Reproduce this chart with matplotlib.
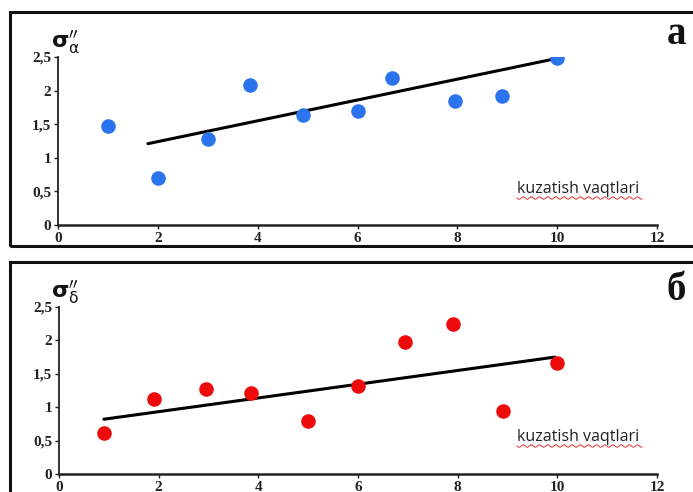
import numpy as np
import matplotlib
matplotlib.use("Agg")
import matplotlib.pyplot as plt
from matplotlib.patches import Rectangle

# ---- data ----
alpha_x = [1.0, 2.0, 3.0, 3.85, 4.9, 6.0, 6.7, 7.95, 8.9, 10.0]
alpha_y = [1.48, 0.70, 1.28, 2.08, 1.64, 1.69, 2.19, 1.84, 1.92, 2.48]
alpha_trend_x = [1.8, 10.0]
alpha_trend_y = [1.21, 2.48]

delta_x = [0.9, 1.9, 2.95, 3.85, 5.0, 6.0, 6.95, 7.9, 8.9, 10.0]
delta_y = [0.61, 1.12, 1.27, 1.21, 0.80, 1.31, 1.98, 2.24, 0.95, 1.66]
delta_trend_x = [0.9, 9.95]
delta_trend_y = [0.82, 1.75]

x_ticks = [0, 2, 4, 6, 8, 10, 12]
y_ticks = [0, 0.5, 1, 1.5, 2, 2.5]
y_tick_labels = ["0", "0,5", "1", "1,5", "2", "2,5"]
x_label_text = "kuzatish vaqtlari"
panel_labels = ["a", "б"]
y_labels = [r"$\mathbf{\sigma}_{\mathrm{\alpha}}^{\prime\prime}$",
            r"$\mathbf{\sigma}_{\mathrm{\delta}}^{\prime\prime}$"]

W, H = 693, 492
fig = plt.figure(figsize=(W / 100, H / 100), dpi=100)
plt.rcParams['mathtext.fontset'] = 'dejavusans'

def fx(px):
    return px / W

def fy(py):
    return 1 - py / H

# frames
for (top, bot) in [(12, 246), (262, 520)]:
    r = Rectangle((fx(10), fy(bot)), fx(720) - fx(10), fy(top) - fy(bot),
                  transform=fig.transFigure, fill=False, lw=2.2, ec="#111111",
                  clip_on=False)
    fig.patches.append(r)

serif = "Liberation Serif"

panels = [
    dict(box=(58, 657, 57, 225), x=alpha_x, y=alpha_y, tx=alpha_trend_x, ty=alpha_trend_y,
         color="#2b74ee", label_y=35, kuz_y=193),
    dict(box=(59, 657, 307, 474), x=delta_x, y=delta_y, tx=delta_trend_x, ty=delta_trend_y,
         color="#ee0b0b", label_y=290, kuz_y=441),
]

for i, p in enumerate(panels):
    l, r, t, b = p["box"]
    ax = fig.add_axes([fx(l), fy(b), fx(r) - fx(l), fy(t) - fy(b)])
    ax.set_xlim(0, 12)
    ax.set_ylim(0, 2.5)
    ax.patch.set_alpha(0)
    for s in ["top", "right"]:
        ax.spines[s].set_visible(False)
    for s in ["left", "bottom"]:
        ax.spines[s].set_linewidth(1.3)
        ax.spines[s].set_color("#222222")
    ax.spines["bottom"].set_linewidth(1.8)
    ax.set_xticks(x_ticks)
    ax.set_yticks(y_ticks)
    ax.set_yticklabels(y_tick_labels)
    ax.tick_params(axis="both", direction="out", length=3, width=1, colors="#222222",
                   labelsize=11, pad=2)
    for lab in ax.get_xticklabels() + ax.get_yticklabels():
        lab.set_fontfamily(serif)
        lab.set_fontweight("bold")
        lab.set_color("#222222")
    ax.plot(p["tx"], p["ty"], color="black", lw=2.2, zorder=2, solid_capstyle="round")
    ax.scatter(p["x"], p["y"], s=110, color=p["color"], zorder=3, linewidths=0)

    # y label sigma
    fig.text(fx(51), fy(t - 1), y_labels[i], fontsize=16, ha="left", va="bottom",
             color="#111111")
    # panel label
    fig.text(fx(676), fy(p["label_y"]), panel_labels[i], fontsize=28, fontweight="bold",
             family=serif, ha="center", va="center", color="#111111")
    # x label
    fig.text(fx(517), fy(p["kuz_y"]), x_label_text, fontsize=11.5, family="Open Sans",
             ha="left", va="baseline", color="#222222")
    # wavy spell-check underline
    xs = np.linspace(517, 642, 200)
    ys = p["kuz_y"] + 5 + 1.2 * np.sin((xs - 517) / 1.3)
    fig.add_artist(plt.Line2D(fx(xs), fy(ys), transform=fig.transFigure,
                              color="#e03030", lw=0.7))

fig.savefig("out.png", dpi=100)
